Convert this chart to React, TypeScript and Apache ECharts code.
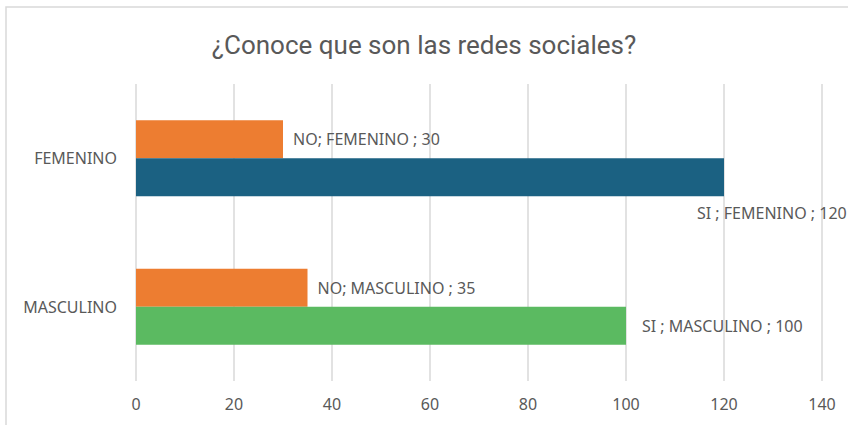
import React, { useEffect, useRef } from "react";
import * as echarts from "echarts";

const titleText = "¿Conoce que son las redes sociales?";
const categories = ["MASCULINO", "FEMENINO"];
const siValues = [100, 120];
const noValues = [35, 30];
const siColors = ["#5bba61", "#1b6182"];
const noColor = "#ed7d31";

export default function App() {
  const ref = useRef<HTMLDivElement>(null);
  useEffect(() => {
    const chart = echarts.init(ref.current!, null, { renderer: "svg" });
    const font = "Noto Sans";
    chart.setOption({
      animation: false,
      backgroundColor: "#ffffff",
      title: {
        text: titleText,
        left: "center",
        top: 27,
        textStyle: { fontFamily: "Roboto", fontSize: 26, fontWeight: "normal", color: "#595959" },
      },
      graphic: [
        {
          type: "rect",
          shape: { x: 6, y: 7, width: 860, height: 440 },
          style: { fill: "none", stroke: "#d9d9d9", lineWidth: 1.5 },
          silent: true,
        },
      ],
      grid: { left: 136, right: 26, top: 84, bottom: 44 },
      xAxis: {
        type: "value",
        min: 0,
        max: 140,
        interval: 20,
        axisLine: { show: false },
        axisTick: { show: false },
        splitLine: { lineStyle: { color: "#d9d9d9", width: 1.5 } },
        axisLabel: { fontFamily: font, fontSize: 16, color: "#595959", margin: 15 },
      },
      yAxis: {
        type: "category",
        data: categories,
        axisLine: { show: false },
        axisTick: { show: false },
        axisLabel: { fontFamily: font, fontSize: 16, color: "#595959", margin: 19 },
      },
      series: [
        {
          name: "NO",
          type: "bar",
          barWidth: 38,
          barGap: "0%",
          itemStyle: { color: noColor },
          data: noValues,
          label: {
            show: true,
            position: "right",
            offset: [5, 0],
            fontFamily: font,
            fontSize: 16,
            color: "#595959",
            formatter: (p: any) => `NO; ${p.name} ; ${p.value}`,
          },
        },
        {
          name: "SI",
          type: "bar",
          barWidth: 38,
          barGap: "0%",
          data: siValues.map((v, i) => ({
            value: v,
            itemStyle: { color: siColors[i] },
            label:
              i === 1
                ? { show: true, position: "right", offset: [-32, 36] }
                : { show: true, position: "right", offset: [11, 0] },
          })),
          label: {
            show: true,
            fontFamily: font,
            fontSize: 16,
            color: "#595959",
            formatter: (p: any) => `SI ; ${p.name} ; ${p.value}`,
          },
        },
      ],
    });
    return () => chart.dispose();
  }, []);
  return (
    <div
      ref={ref}
      style={{ position: "fixed", left: 0, top: 0, width: 848, height: 425 }}
    />
  );
}
